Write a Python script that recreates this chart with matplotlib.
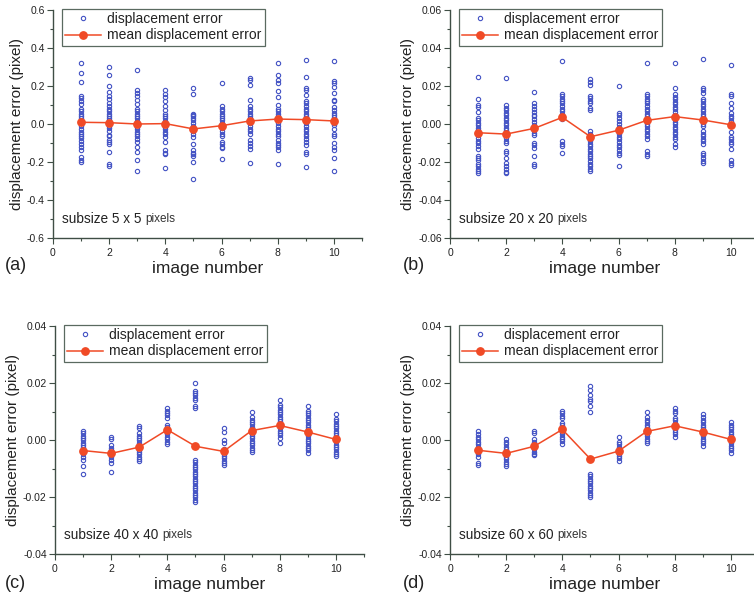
import matplotlib
matplotlib.use("Agg")
import matplotlib.pyplot as plt
import matplotlib.ticker as mticker

plt.rcParams.update({
    "font.family": ["Liberation Sans", "DejaVu Sans"],
    "axes.unicode_minus": False,
})

image_no = [1, 2, 3, 4, 5, 6, 7, 8, 9, 10]

# subsize 5 x 5
err_a = [
    [0.32, 0.27, 0.22, 0.15, 0.135, 0.12, 0.105, 0.08, 0.07, 0.055, 0.04, 0.03, 0.015, 0.005, -0.01,
     -0.025, -0.04, -0.05, -0.065, -0.075, -0.09, -0.105, -0.12, -0.135, -0.175, -0.19, -0.2],
    [0.30, 0.26, 0.20, 0.17, 0.15, 0.13, 0.11, 0.095, 0.08, 0.07, 0.055, 0.04, 0.03, 0.02, 0.005,
     -0.01, -0.02, -0.035, -0.06, -0.065, -0.085, -0.095, -0.105, -0.145, -0.21, -0.22],
    [0.285, 0.18, 0.165, 0.15, 0.125, 0.105, 0.08, 0.07, 0.055, 0.04, 0.03, 0.015, 0.0, -0.015,
     -0.025, -0.04, -0.05, -0.065, -0.08, -0.095, -0.12, -0.145, -0.19, -0.245],
    [0.18, 0.16, 0.14, 0.12, 0.095, 0.075, 0.055, 0.04, 0.03, 0.015, 0.0, -0.015, -0.025, -0.04,
     -0.055, -0.07, -0.095, -0.135, -0.15, -0.16, -0.23],
    [0.19, 0.16, 0.055, 0.045, 0.04, 0.03, 0.02, 0.005, -0.01, -0.02, -0.035, -0.05, -0.07, -0.105,
     -0.135, -0.15, -0.16, -0.17, -0.2, -0.29],
    [0.215, 0.095, 0.08, 0.07, 0.055, 0.04, 0.03, 0.02, 0.005, -0.01, -0.02, -0.035, -0.05, -0.065,
     -0.095, -0.105, -0.12, -0.125, -0.185],
    [0.24, 0.23, 0.205, 0.125, 0.095, 0.08, 0.07, 0.055, 0.04, 0.03, 0.015, 0.005, -0.01, -0.025,
     -0.035, -0.05, -0.085, -0.1, -0.115, -0.13, -0.205],
    [0.32, 0.26, 0.23, 0.215, 0.175, 0.14, 0.1, 0.08, 0.07, 0.055, 0.04, 0.03, 0.02, 0.005, -0.01,
     -0.025, -0.035, -0.05, -0.065, -0.085, -0.1, -0.11, -0.12, -0.135, -0.21],
    [0.335, 0.245, 0.19, 0.18, 0.155, 0.12, 0.11, 0.095, 0.08, 0.07, 0.055, 0.04, 0.03, 0.02, 0.005,
     -0.01, -0.025, -0.035, -0.05, -0.065, -0.08, -0.095, -0.11, -0.145, -0.16, -0.225],
    [0.33, 0.225, 0.215, 0.195, 0.165, 0.125, 0.12, 0.09, 0.075, 0.06, 0.045, 0.035, 0.02, 0.005,
     -0.005, -0.025, -0.05, -0.065, -0.1, -0.12, -0.135, -0.18, -0.245],
]
mean_a = [0.009, 0.007, 0.0, 0.002, -0.026, -0.009, 0.016, 0.026, 0.023, 0.016]

# subsize 20 x 20
err_b = [
    [0.025, 0.013, 0.010, 0.009, 0.0065, 0.003, 0.002, 0.0007, -0.0007, -0.002, -0.0033, -0.0046,
     -0.006, -0.0074, -0.0088, -0.010, -0.0116, -0.013, -0.0168, -0.018, -0.019, -0.021, -0.022,
     -0.0235, -0.0247, -0.026],
    [0.024, 0.010, 0.0086, 0.0072, 0.006, 0.0046, 0.003, 0.002, 0.0007, -0.0007, -0.002, -0.0033,
     -0.0046, -0.006, -0.0074, -0.0088, -0.010, -0.0142, -0.0154, -0.018, -0.0207, -0.022, -0.0235,
     -0.025, -0.026],
    [0.017, 0.011, 0.0095, 0.008, 0.0065, 0.005, 0.004, 0.0025, 0.001, -0.0007, -0.002, -0.0033,
     -0.0046, -0.006, -0.0098, -0.011, -0.0125, -0.0168, -0.021, -0.022],
    [0.033, 0.016, 0.0147, 0.0133, 0.012, 0.011, 0.0095, 0.008, 0.0068, 0.0054, 0.004, 0.0028,
     -0.009, -0.0104, -0.0116, -0.015],
    [0.0235, 0.022, 0.0205, 0.015, 0.0139, 0.012, 0.011, 0.0086, 0.0072, -0.0037, -0.005, -0.0063,
     -0.0077, -0.009, -0.0104, -0.0116, -0.013, -0.0142, -0.0156, -0.0168, -0.018, -0.0195, -0.021,
     -0.022, -0.0235, -0.0247],
    [0.020, 0.006, 0.0046, 0.003, 0.0016, -0.0002, -0.0014, -0.0028, -0.004, -0.0054, -0.0067,
     -0.008, -0.0095, -0.0109, -0.0123, -0.0137, -0.015, -0.0165, -0.022],
    [0.032, 0.016, 0.0147, 0.0133, 0.012, 0.011, 0.0095, 0.008, 0.0068, 0.0054, 0.004, 0.0028,
     0.0016, 0.0002, -0.001, -0.0025, -0.0037, -0.005, -0.0063, -0.008, -0.0142, -0.0156, -0.0168],
    [0.032, 0.019, 0.0156, 0.0142, 0.013, 0.0116, 0.0103, 0.009, 0.0077, 0.0063, 0.005, 0.0037,
     0.0025, 0.0012, -0.0002, -0.0016, -0.0028, -0.004, -0.0054, -0.0067, -0.008, -0.0107, -0.012],
    [0.034, 0.019, 0.018, 0.0165, 0.0133, 0.012, 0.0107, 0.0095, 0.008, 0.0068, 0.0054, 0.004,
     0.0028, 0.0016, 0.0002, -0.001, -0.0037, -0.005, -0.0063, -0.0077, -0.009, -0.0104, -0.015,
     -0.0165, -0.018, -0.0195, -0.0207],
    [0.031, 0.016, 0.0147, 0.011, 0.0082, 0.0056, 0.0042, 0.003, 0.0016, 0.0002, -0.001, -0.0042,
     -0.0067, -0.008, -0.0095, -0.0107, -0.0133, -0.019, -0.0204, -0.0218],
]
mean_b = [-0.0046, -0.0053, -0.0023, 0.0035, -0.0067, -0.0033, 0.0019, 0.0039, 0.0021, -0.0004]

# subsize 40 x 40
err_c = [
    [0.0032, 0.0023, 0.0015, 0.0007, -0.0001, -0.0009, -0.0018, -0.0026, -0.0034, -0.0042, -0.005,
     -0.0058, -0.007, -0.009, -0.0118],
    [0.0012, 0.0004, -0.0019, -0.0027, -0.0035, -0.0044, -0.0053, -0.0061, -0.007, -0.0082, -0.0111],
    [0.005, 0.0041, 0.0023, 0.0015, 0.0007, -0.0001, -0.0009, -0.0018, -0.0026, -0.0034, -0.0042,
     -0.005, -0.0058, -0.0067, -0.0075],
    [0.0111, 0.0103, 0.0095, 0.0087, 0.0078, 0.0053, 0.0044, 0.0036, 0.0028, 0.002, 0.0012, 0.0002,
     -0.0006, -0.0014],
    [0.020, 0.0173, 0.0165, 0.0157, 0.0149, 0.014, 0.012, 0.0112, -0.007, -0.0078, -0.0087, -0.0095,
     -0.0103, -0.0111, -0.0119, -0.0127, -0.0136, -0.0144, -0.0152, -0.016, -0.0168, -0.0177,
     -0.0185, -0.0193, -0.0201, -0.0209, -0.0218],
    [0.0041, 0.0029, 0.0, -0.0009, -0.0032, -0.004, -0.0048, -0.0056, -0.0064, -0.0073, -0.0081,
     -0.0089],
    [0.0099, 0.008, 0.0071, 0.0063, 0.0055, 0.0047, 0.0039, 0.003, 0.0022, 0.0014, 0.0006, -0.0002,
     -0.0011, -0.0019, -0.0027, -0.0035, -0.0043],
    [0.0142, 0.0123, 0.0115, 0.0106, 0.0098, 0.009, 0.0082, 0.0074, 0.0065, 0.0057, 0.0049, 0.0041,
     0.0033, 0.0025, 0.0016, 0.0008, -0.0011],
    [0.0119, 0.0103, 0.0095, 0.0087, 0.0078, 0.007, 0.0062, 0.0054, 0.0046, 0.0037, 0.0029, 0.0021,
     0.0013, 0.0005, -0.0004, -0.0012, -0.002, -0.0028, -0.0036, -0.0044],
    [0.009, 0.0074, 0.0065, 0.0057, 0.0049, 0.0041, 0.0033, 0.0025, 0.0016, 0.0008, 0.0, -0.0008,
     -0.0016, -0.0025, -0.0033, -0.0041, -0.0049, -0.0055],
]
mean_c = [-0.0037, -0.0047, -0.0025, 0.0036, -0.0022, -0.004, 0.0033, 0.0051, 0.0028, 0.0002]

# subsize 60 x 60
err_d = [
    [0.003, 0.0021, 0.0012, 0.0002, -0.0006, -0.0014, -0.0023, -0.0033, -0.0041, -0.0049, -0.0058,
     -0.008, -0.0088],
    [0.0002, -0.0006, -0.0014, -0.0023, -0.0033, -0.0041, -0.0049, -0.0058, -0.0068, -0.0076,
     -0.0084, -0.0091],
    [0.0032, 0.0023, 0.0002, -0.0006, -0.0014, -0.0023, -0.0033, -0.0041, -0.0049, -0.0054],
    [0.0102, 0.0094, 0.0085, 0.0077, 0.0061, 0.0053, 0.0044, 0.0036, 0.0028, 0.002, 0.0012, 0.0004,
     -0.0005, -0.0013],
    [0.0191, 0.0175, 0.0159, 0.0144, 0.0136, 0.0119, 0.0099, -0.0119, -0.0127, -0.0136, -0.0144,
     -0.0152, -0.016, -0.0168, -0.0177, -0.0185, -0.0193, -0.0201],
    [0.0012, -0.0006, -0.0014, -0.0023, -0.0032, -0.004, -0.0048, -0.0056, -0.0064, -0.0073],
    [0.0099, 0.008, 0.007, 0.0062, 0.0054, 0.0046, 0.0037, 0.0029, 0.0021, 0.0013, 0.0005, -0.0004,
     -0.0012],
    [0.0111, 0.0103, 0.0094, 0.0077, 0.0069, 0.0061, 0.0053, 0.0044, 0.0036, 0.0028, 0.002, 0.0012],
    [0.009, 0.0082, 0.007, 0.0062, 0.0054, 0.0046, 0.0037, 0.0029, 0.0021, 0.0013, 0.0005, -0.0004,
     -0.0012, -0.002],
    [0.0062, 0.0054, 0.0046, 0.0037, 0.0029, 0.0021, 0.0013, 0.0005, -0.0004, -0.0012, -0.002,
     -0.0028, -0.0036, -0.0044],
]
mean_d = [-0.0036, -0.0047, -0.0022, 0.0037, -0.0067, -0.0039, 0.003, 0.005, 0.0028, 0.0002]

subsizes = ["5 x 5", "20 x 20", "40 x 40", "60 x 60"]
panel_tags = ["(a)", "(b)", "(c)", "(d)"]
y_limits = [0.6, 0.06, 0.04, 0.04]
y_steps = [0.2, 0.02, 0.02, 0.02]
y_formats = ["%.1f", "%.2f", "%.2f", "%.2f"]

AXIS_COLOR = "#3f4e45"
DOT_COLOR = "#4352c4"
MEAN_COLOR = "#f04a26"
TEXT_COLOR = "#222222"

W, H = 754, 598
fig = plt.figure(figsize=(W / 100, H / 100), dpi=100)

# axes boxes in pixels: left, top, width, height
boxes = [(53, 10, 309, 228), (450, 10, 309, 228),
         (55, 326, 309, 228), (450, 326, 309, 228)]
# panel tag anchors in pixels
tag_pos = [(5, 266), (403, 266), (5, 584), (403, 584)]

panels = [(err_a, mean_a), (err_b, mean_b), (err_c, mean_c), (err_d, mean_d)]

for i, ((errs, means), (l, t, w, h)) in enumerate(zip(panels, boxes)):
    ax = fig.add_axes([l / W, 1 - (t + h) / H, w / W, h / H])
    xs = [n for n, col in zip(image_no, errs) for _ in col]
    ys = [v for col in errs for v in col]
    ax.plot(xs, ys, linestyle="none", marker="o", markersize=3.1,
            markerfacecolor="none", markeredgecolor=DOT_COLOR, markeredgewidth=0.8,
            label="displacement error")
    ax.plot(image_no, means, color=MEAN_COLOR, lw=1.1, marker="o", markersize=5.3,
            label="mean displacement error")

    lim = y_limits[i]
    ax.set_xlim(0, 11)
    ax.set_ylim(-lim, lim)
    ax.xaxis.set_major_locator(mticker.FixedLocator([0, 2, 4, 6, 8, 10]))
    ax.xaxis.set_minor_locator(mticker.MultipleLocator(1))
    ax.yaxis.set_major_locator(mticker.MultipleLocator(y_steps[i]))
    ax.yaxis.set_minor_locator(mticker.MultipleLocator(y_steps[i] / 2))
    ax.yaxis.set_major_formatter(mticker.FormatStrFormatter(y_formats[i]))
    ax.tick_params(which="both", direction="out", color=AXIS_COLOR, width=0.8,
                   labelsize=7.5, labelcolor=TEXT_COLOR, pad=2)
    ax.tick_params(which="major", length=4)
    ax.tick_params(which="minor", length=2.5)
    ax.tick_params(axis="x", pad=3)
    for side in ["top", "right"]:
        ax.spines[side].set_visible(False)
    for side in ["left", "bottom"]:
        ax.spines[side].set_color(AXIS_COLOR)
        ax.spines[side].set_linewidth(1.0)

    ax.set_ylabel("displacement error (pixel)", fontsize=11, labelpad=2, color=TEXT_COLOR)
    ax.set_xlabel("image number", fontsize=12.5, labelpad=2, color=TEXT_COLOR)

    leg = ax.legend(loc="upper left", bbox_to_anchor=(0.028, 1.005), borderaxespad=0,
                    fontsize=10, frameon=True, fancybox=False, framealpha=1,
                    edgecolor="#5a6a60", handlelength=2.6, handletextpad=0.4,
                    borderpad=0.25, labelspacing=0.15)
    leg.get_frame().set_linewidth(0.9)
    for txt in leg.get_texts():
        txt.set_color(TEXT_COLOR)

    ax.text(0.03, 0.085, "subsize " + subsizes[i], transform=ax.transAxes,
            fontsize=9.8, ha="left", va="center", color=TEXT_COLOR)

    tx, ty = tag_pos[i]
    fig.text(tx / W, 1 - ty / H, panel_tags[i], fontsize=13,
             ha="left", va="center", color=TEXT_COLOR)

# smaller "pixels" word placed right after each subsize label
fig.canvas.draw()
for ax in fig.axes:
    label = [t for t in ax.texts if t.get_text().startswith("subsize")][0]
    x_end = label.get_window_extent().x1 + 4
    x_ax = ax.transAxes.inverted().transform((x_end, 0))[0]
    ax.text(x_ax, 0.082, "pixels", transform=ax.transAxes, fontsize=8.5,
            ha="left", va="center", color="#333333")

fig.savefig("out.png", dpi=100)
